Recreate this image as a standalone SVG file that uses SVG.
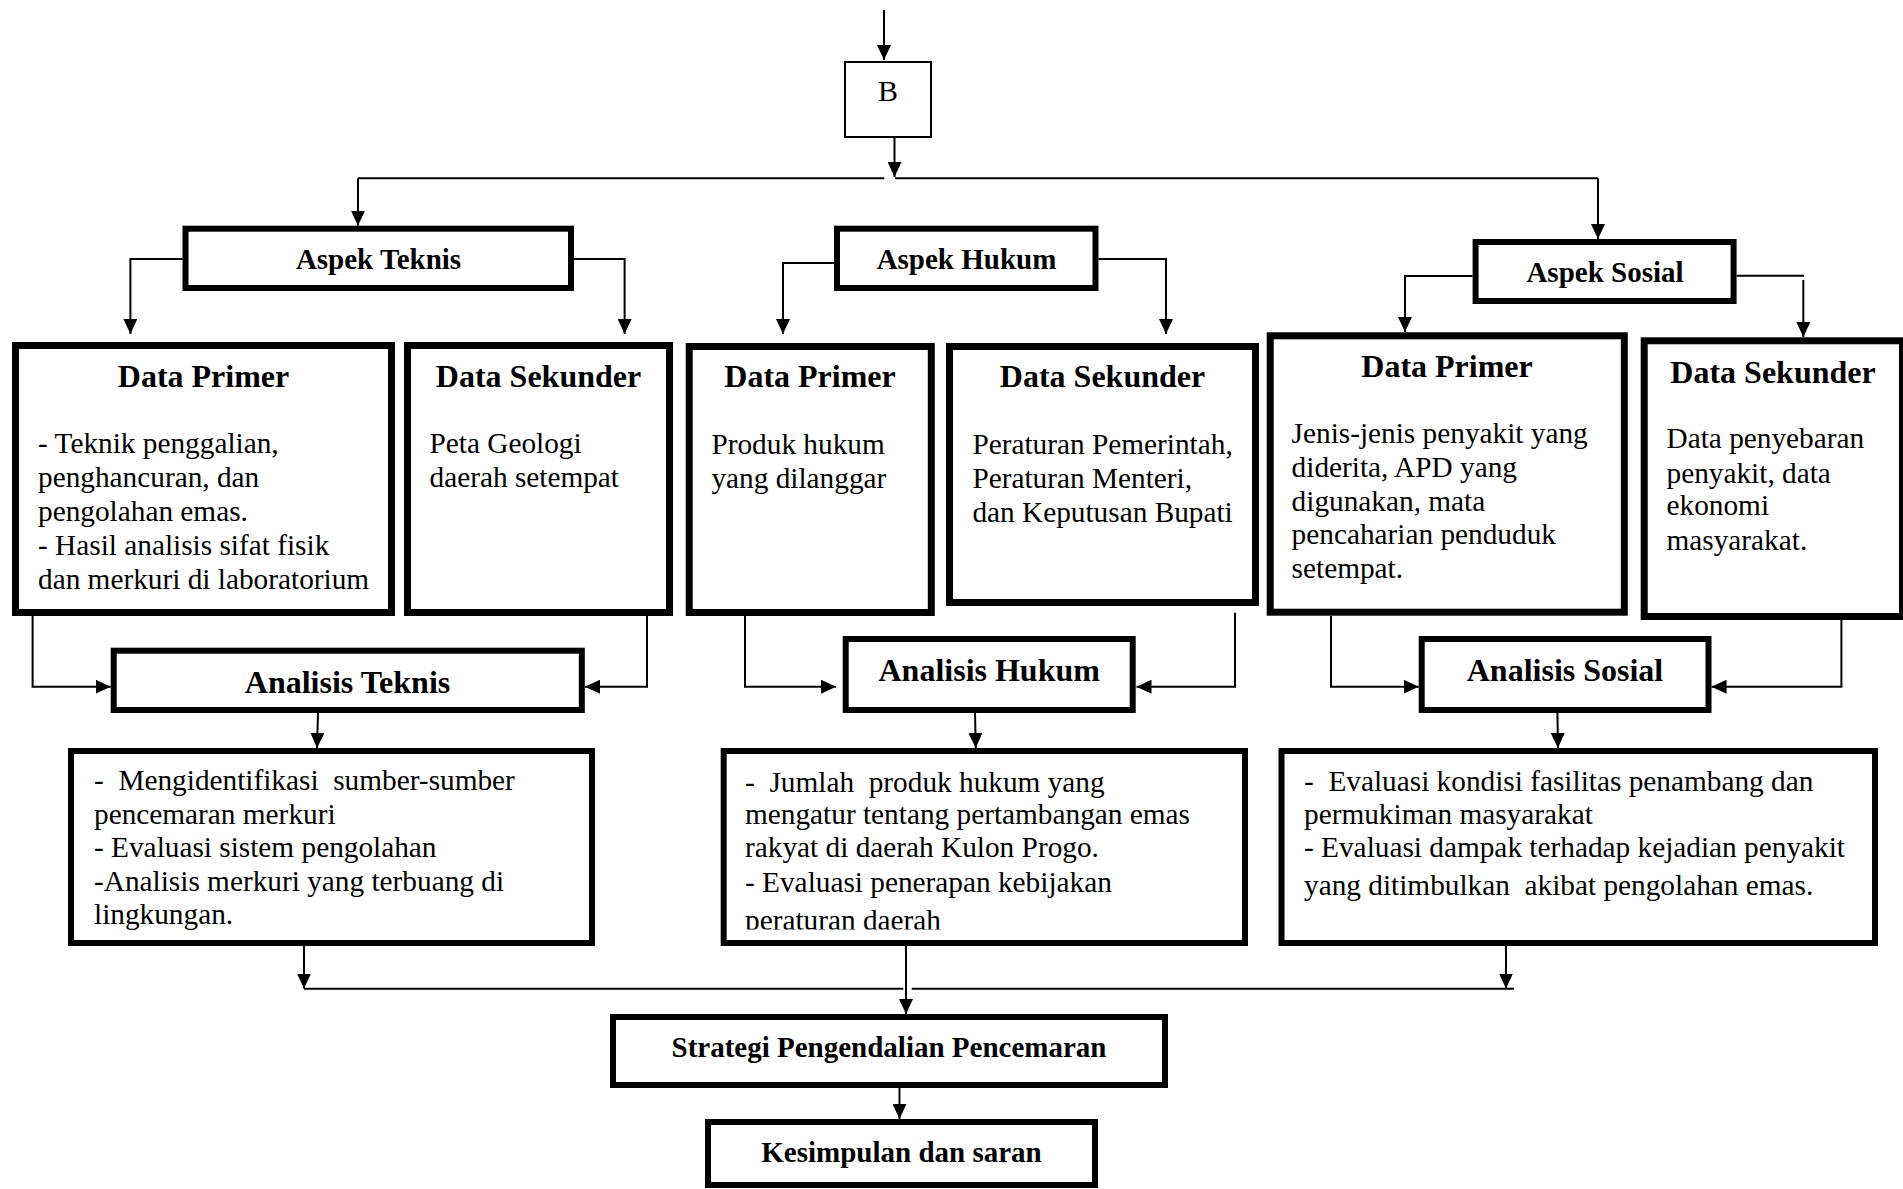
<svg xmlns="http://www.w3.org/2000/svg" width="1903" height="1189" viewBox="0 0 1903 1189">
  <style>
    .box { fill: #fff; stroke: #000; stroke-width: 6; }
    .data { fill: #fff; stroke: #000; stroke-width: 7; }
    .thin { fill: #fff; stroke: #000; stroke-width: 2; }
    .ln { fill: none; stroke: #000; stroke-width: 2; }
    .arr { fill: none; stroke: #000; stroke-width: 2; marker-end: url(#ah); }
    text { font-family: "Liberation Serif", "Times New Roman", serif; fill: #000; }
    .hd { font-size: 29px; font-weight: bold; text-anchor: middle; }
    .tt { font-size: 32px; font-weight: bold; text-anchor: middle; }
    .bd { font-size: 29.3px; }
  </style>
  <defs>
    <marker id="ah" markerUnits="userSpaceOnUse" markerWidth="16" markerHeight="14" refX="15" refY="7" orient="auto">
      <path d="M0,0 L15,7 L0,14 z" fill="#000"/>
    </marker>
    <clipPath id="clipHukum">
      <rect x="700" y="740" width="560" height="189.5"/>
    </clipPath>
  </defs>
  <rect width="1903" height="1189" fill="#fff"/>

  <!-- connectors -->
  <g id="connectors">
    <line class="arr" x1="884" y1="10" x2="884" y2="60"/>
    <line class="arr" x1="894.5" y1="138" x2="894.5" y2="177"/>
    <polyline class="ln" points="884.3,178.3 358,178.3"/>
    <polyline class="ln" points="895,178.3 1598,178.3"/>
    <line class="arr" x1="358" y1="178.3" x2="358" y2="225.7"/>
    <line class="arr" x1="1598" y1="178.3" x2="1598" y2="239"/>

    <polyline class="arr" points="182.5,259 130.4,259 130.4,334"/>
    <polyline class="arr" points="574,259 624.6,259 624.6,334"/>
    <polyline class="arr" points="834,263 783,263 783,334"/>
    <polyline class="arr" points="1098.5,259 1166,259 1166,334"/>
    <polyline class="arr" points="1472.6,276 1405,276 1405,332"/>
    <polyline class="ln" points="1736.7,275.7 1804,275.7"/>
    <line class="arr" x1="1803.3" y1="280" x2="1803.3" y2="337"/>

    <polyline class="arr" points="32.6,616 32.6,686.7 110.7,686.7"/>
    <polyline class="arr" points="647,616 647,686.7 585,686.7"/>
    <polyline class="arr" points="745,616 745,686.7 836,686.7"/>
    <polyline class="arr" points="1235,612.7 1235,686.7 1136.5,686.7"/>
    <polyline class="arr" points="1331,616 1331,686.7 1418.7,686.7"/>
    <polyline class="arr" points="1841.4,611.7 1841.4,686.7 1711.5,686.7"/>

    <line class="arr" x1="318" y1="713" x2="317" y2="748"/>
    <line class="arr" x1="975" y1="713" x2="975.8" y2="748"/>
    <line class="arr" x1="1557.4" y1="713" x2="1558" y2="748"/>

    <line class="arr" x1="304" y1="946" x2="304" y2="988.5"/>
    <line class="arr" x1="1506" y1="946" x2="1506" y2="988.5"/>
    <line class="ln" x1="304" y1="988.8" x2="903.3" y2="988.8"/>
    <line class="ln" x1="911.7" y1="988.8" x2="1514" y2="988.8"/>
    <line class="arr" x1="906" y1="946" x2="906" y2="1014"/>
    <line class="arr" x1="899.5" y1="1088" x2="899.5" y2="1119"/>
  </g>

  <!-- entry node -->
  <g id="node-b">
    <rect class="thin" x="845" y="62" width="86" height="75"/>
    <text x="888" y="100.7" font-size="30" text-anchor="middle">B</text>
  </g>

  <!-- aspect headers -->
  <g id="aspek-teknis">
    <rect class="box" x="185.5" y="228.7" width="385.5" height="59.3"/>
    <text class="hd" x="378.5" y="269.3">Aspek Teknis</text>
  </g>
  <g id="aspek-hukum">
    <rect class="box" x="837" y="228.7" width="258.5" height="59.3"/>
    <text class="hd" x="966.5" y="269.3">Aspek Hukum</text>
  </g>
  <g id="aspek-sosial">
    <rect class="box" x="1475.6" y="242" width="258" height="59"/>
    <text class="hd" x="1605" y="281.7">Aspek Sosial</text>
  </g>

  <!-- data boxes -->
  <g id="dp-teknis">
    <rect class="data" x="15.5" y="345.5" width="376" height="267"/>
    <text class="tt" x="203.5" y="387">Data Primer</text>
    <text class="bd" x="38">
      <tspan x="38" y="453">- Teknik penggalian,</tspan>
      <tspan x="38" y="487">penghancuran, dan</tspan>
      <tspan x="38" y="521">pengolahan emas.</tspan>
      <tspan x="38" y="555">- Hasil analisis sifat fisik</tspan>
      <tspan x="38" y="589">dan merkuri di laboratorium</tspan>
    </text>
  </g>
  <g id="ds-teknis">
    <rect class="data" x="407.5" y="345.5" width="262" height="267"/>
    <text class="tt" x="538.5" y="387">Data Sekunder</text>
    <text class="bd">
      <tspan x="429.5" y="453">Peta Geologi</tspan>
      <tspan x="429.5" y="487">daerah setempat</tspan>
    </text>
  </g>
  <g id="dp-hukum">
    <rect class="data" x="689.2" y="346.5" width="242.1" height="266"/>
    <text class="tt" x="810" y="387">Data Primer</text>
    <text class="bd">
      <tspan x="711.4" y="454">Produk hukum</tspan>
      <tspan x="711.4" y="488">yang dilanggar</tspan>
    </text>
  </g>
  <g id="ds-hukum">
    <rect class="data" x="949.5" y="346.5" width="306" height="256"/>
    <text class="tt" x="1102.5" y="387">Data Sekunder</text>
    <text class="bd">
      <tspan x="972.4" y="454">Peraturan Pemerintah,</tspan>
      <tspan x="972.4" y="488">Peraturan Menteri,</tspan>
      <tspan x="972.4" y="522">dan Keputusan Bupati</tspan>
    </text>
  </g>
  <g id="dp-sosial">
    <rect class="data" x="1270.2" y="335.8" width="354.1" height="276.4"/>
    <text class="tt" x="1447" y="377.3">Data Primer</text>
    <text class="bd">
      <tspan x="1291.6" y="443">Jenis-jenis penyakit yang</tspan>
      <tspan x="1291.6" y="477">diderita, APD yang</tspan>
      <tspan x="1291.6" y="510.5">digunakan, mata</tspan>
      <tspan x="1291.6" y="544">pencaharian penduduk</tspan>
      <tspan x="1291.6" y="578">setempat.</tspan>
    </text>
  </g>
  <g id="ds-sosial">
    <rect class="data" x="1644.2" y="340.8" width="258.3" height="275.7"/>
    <text class="tt" x="1773" y="382.7">Data Sekunder</text>
    <text class="bd">
      <tspan x="1666.5" y="448">Data penyebaran</tspan>
      <tspan x="1666.5" y="482.5">penyakit, data</tspan>
      <tspan x="1666.5" y="515">ekonomi</tspan>
      <tspan x="1666.5" y="549.5">masyarakat.</tspan>
    </text>
  </g>

  <!-- analysis boxes -->
  <g id="analisis-teknis">
    <rect class="box" x="113.7" y="650.7" width="468.1" height="59.3"/>
    <text class="tt" x="347.5" y="692.7">Analisis Teknis</text>
  </g>
  <g id="analisis-hukum">
    <rect class="box" x="845.7" y="639" width="287" height="71"/>
    <text class="tt" x="989.2" y="680.7">Analisis Hukum</text>
  </g>
  <g id="analisis-sosial">
    <rect class="box" x="1421.7" y="639" width="286.8" height="71"/>
    <text class="tt" x="1565" y="680.7">Analisis Sosial</text>
  </g>

  <!-- analysis results -->
  <g id="hasil-teknis">
    <rect class="box" x="71" y="751" width="521" height="192"/>
    <text class="bd" xml:space="preserve"><tspan x="94" y="790">-  Mengidentifikasi  sumber-sumber</tspan><tspan x="94" y="823.6">pencemaran merkuri</tspan><tspan x="94" y="857.2">- Evaluasi sistem pengolahan</tspan><tspan x="94" y="890.8">-Analisis merkuri yang terbuang di</tspan><tspan x="94" y="924.4">lingkungan.</tspan></text>
  </g>
  <g id="hasil-hukum">
    <rect class="box" x="723.7" y="751" width="521.3" height="192"/>
    <text class="bd" xml:space="preserve" clip-path="url(#clipHukum)"><tspan x="745" y="791.5">-  Jumlah  produk hukum yang</tspan><tspan x="745" y="823.5">mengatur tentang pertambangan emas</tspan><tspan x="745" y="857">rakyat di daerah Kulon Progo.</tspan><tspan x="745" y="891.5">- Evaluasi penerapan kebijakan</tspan><tspan x="745" y="930">peraturan daerah</tspan></text>
  </g>
  <g id="hasil-sosial">
    <rect class="box" x="1281.5" y="751" width="593.5" height="192"/>
    <text class="bd" xml:space="preserve"><tspan x="1304" y="791">-  Evaluasi kondisi fasilitas penambang dan</tspan><tspan x="1304" y="823.5">permukiman masyarakat</tspan><tspan x="1304" y="857">- Evaluasi dampak terhadap kejadian penyakit</tspan><tspan x="1304" y="895">yang ditimbulkan  akibat pengolahan emas.</tspan></text>
  </g>

  <!-- synthesis -->
  <g id="strategi">
    <rect class="box" x="613" y="1017" width="552" height="68"/>
    <text class="hd" x="889" y="1057">Strategi Pengendalian Pencemaran</text>
  </g>
  <g id="kesimpulan">
    <rect class="box" x="708" y="1122" width="387" height="63"/>
    <text class="hd" x="901.5" y="1162">Kesimpulan dan saran</text>
  </g>
</svg>
